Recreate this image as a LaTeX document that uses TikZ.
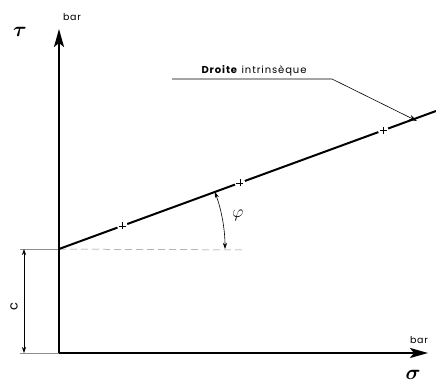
\documentclass[tikz,border=0pt]{standalone}
\usepackage{fontspec}
\usepackage{amsmath,bm}
\setsansfont{Poppins}
\usetikzlibrary{arrows.meta,calc}
\tikzset{
  axis/.style={line width=2.2pt,-{Stealth[length=18pt,width=10pt,inset=4pt]}},
  thick line/.style={line width=2pt},
  thin line/.style={line width=0.6pt},
  ext line/.style={line width=0.5pt,black!45},
  dim/.style={line width=0.6pt,{Stealth[length=6pt,width=4pt]}-{Stealth[length=6pt,width=4pt]}},
  unit/.style={font=\sffamily\fontsize{9.5}{11}\selectfont\addfontfeature{LetterSpace=8}},
  crossmark/.style={circle,fill=white,inner sep=0pt,minimum size=11pt,
    path picture={\draw[line width=0.5pt] ([xshift=-3.5pt]path picture bounding box.center)--([xshift=3.5pt]path picture bounding box.center)
      ([yshift=-3.5pt]path picture bounding box.center)--([yshift=3.5pt]path picture bounding box.center);}},
}
\begin{document}
\begin{tikzpicture}[x=1pt,y=-1pt]
\useasboundingbox (0,0) rectangle (436,385);
% key points
\coordinate (O) at (59,353);
\coordinate (Ytop) at (59,29);
\coordinate (Xend) at (428,353);
\coordinate (A) at (59,249);
\coordinate (E) at (436,111);
% extension / dashed lines
\coordinate (Lext) at (20,249);
\coordinate (Dend) at (245,250);
\coordinate (Bext) at (20,353);
\draw[ext line] (Lext) -- (A);
\draw[ext line,dash pattern=on 7pt off 4pt] (A) -- (Dend);
\draw[ext line] (Bext) -- (O);
% dimension c
\coordinate (Ct) at (24,249);
\coordinate (Cb) at (24,353);
\draw[dim] (Ct) -- (Cb);
\node[rotate=90,font=\sffamily\fontsize{13}{14}\selectfont] (clab) at (14,307) {c};
% axes
\draw[axis] (O) -- (Ytop);
\draw[axis] (O) -- (Xend);
\node[font=\fontsize{22}{24}\selectfont] (tau) at (20,32) {$\bm{\tau}$};
\node[font=\fontsize{22}{24}\selectfont] (sigma) at (413,375) {$\bm{\sigma}$};
\node[unit] (bar1) at (72,17) {bar};
\node[unit] (bar2) at (419,340) {bar};
% intrinsic line
\draw[thick line] (A) -- (E);
\node[crossmark] (k1) at ($(A)!0.168!(E)$) {};
\node[crossmark] (k2) at ($(A)!0.48!(E)$) {};
\node[crossmark] (k3) at ($(A)!0.86!(E)$) {};
% angle phi
\draw[thin line,{Stealth[length=6pt,width=4pt]}-{Stealth[length=6pt,width=4pt]}] (225,249) arc[start angle=0,end angle=-20.1,radius=166];
\node[font=\fontsize{18}{20}\selectfont] (phi) at (238,215) {$\varphi$};
% label
\node[font=\sffamily\fontsize{10}{12}\selectfont\addfontfeature{LetterSpace=9},anchor=base] (lab) at (254,74) {\textbf{Droite} intrinsèque};
\coordinate (U1) at (172,79);
\coordinate (U2) at (332,79);
\coordinate (P) at (417,121);
\draw[thin line,-{Stealth[length=8pt,width=5pt]}] (U1) -- (U2) -- (P);
\end{tikzpicture}
\end{document}
